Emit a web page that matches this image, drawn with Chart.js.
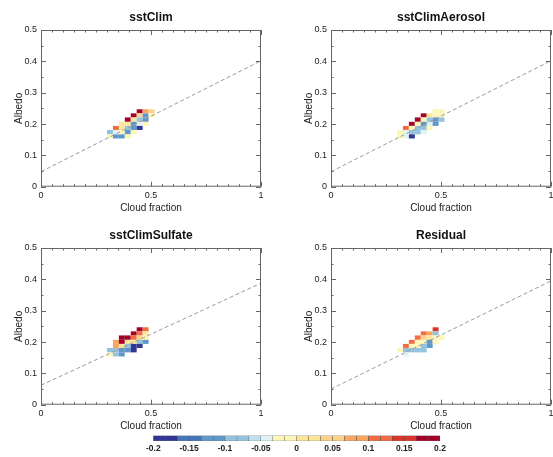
<!DOCTYPE html>
<html><head><meta charset="utf-8">
<script src="https://cdn.jsdelivr.net/npm/chart.js@4.4.1/dist/chart.umd.min.js"></script>
<style>
html,body{margin:0;padding:0;background:#fff;overflow:hidden;}
#wrap{position:relative;width:553px;height:457px;overflow:hidden;background:#fff;}
canvas{position:absolute;}
</style></head><body>
<div id="wrap">
<canvas id="p0" width="276" height="218" style="left:0px;top:0px"></canvas>
<canvas id="p1" width="276" height="218" style="left:290px;top:0px"></canvas>
<canvas id="p2" width="276" height="218" style="left:0px;top:218.3px"></canvas>
<canvas id="p3" width="276" height="218" style="left:290px;top:218.3px"></canvas>
<canvas id="cb" width="315" height="29" style="left:140px;top:428px"></canvas>
</div>
<script>
// ---------------- data ----------------
const panelTitles = ['sstClim', 'sstClimAerosol', 'sstClimSulfate', 'Residual'];
const xTickVals = [0, 0.5, 1];
const xTickLabels = ['0', '0.5', '1'];
const yTickVals = [0, 0.1, 0.2, 0.3, 0.4, 0.5];
const yTickLabels = ['0', '0.1', '0.2', '0.3', '0.4', '0.5'];
// bin edges (cloud fraction, albedo bottom->top)
const cloudEdges = [0.300, 0.327, 0.354, 0.381, 0.408, 0.435, 0.462, 0.489, 0.516];
const albedoEdges = [0.154, 0.167, 0.181, 0.194, 0.207, 0.221, 0.234, 0.247];
// cell values, rows listed top (high albedo) -> bottom
const cellsSstClim = [
  [null,null,null,null,null,0.19,0.08,0.05],
  [null,null,null,null,0.19,0.05,-0.11,-0.01],
  [null,null,null,0.19,0.02,-0.08,-0.11,null],
  [null,null,0.02,0.02,-0.11,-0.04,-0.01,null],
  [null,0.11,0.02,-0.08,-0.11,-0.19,null,null],
  [-0.08,-0.04,-0.01,-0.11,-0.01,null,null,null],
  [-0.01,-0.11,-0.11,-0.01,null,null,null,null]
];
const cellsAerosol = [
  [null,null,null,null,null,null,-0.01,-0.01],
  [null,null,null,null,0.19,0.02,-0.01,-0.01],
  [null,null,null,0.19,-0.01,-0.08,-0.11,-0.08],
  [null,null,0.19,-0.01,-0.11,-0.04,-0.11,null],
  [null,0.11,-0.01,-0.08,-0.08,-0.01,null,null],
  [-0.01,-0.04,-0.08,-0.08,-0.04,null,null,null],
  [-0.01,-0.04,-0.19,null,null,null,null,null]
];
const cellsSulfate = [
  [null,null,null,null,null,0.19,0.11,null],
  [null,null,null,null,0.19,0.11,0.02,null],
  [null,null,0.19,0.19,0.11,0.05,-0.01,null],
  [null,0.08,0.19,0.02,0.02,-0.08,-0.11,null],
  [null,0.08,0.02,-0.08,-0.19,-0.19,null,null],
  [-0.08,-0.08,-0.11,-0.11,-0.19,null,null,null],
  [-0.01,-0.08,-0.11,null,null,null,null,null]
];
const cellsResidual = [
  [null,null,null,null,null,null,0.15,null],
  [null,null,null,null,0.11,0.08,-0.08,null],
  [null,null,null,0.11,0.05,0.02,-0.01,-0.01],
  [null,null,0.11,-0.01,-0.01,-0.11,-0.01,null],
  [null,0.11,-0.01,-0.01,-0.08,-0.11,null,null],
  [-0.01,-0.08,-0.08,-0.08,-0.08,null,null,null],
  [null,-0.04,null,null,null,null,null,null]
];
// dashed fit line: albedo at cloud fraction 0 and 1
const fitAt0 = [0.048, 0.048, 0.062, 0.050];
const fitAt1 = [0.402, 0.402, 0.388, 0.395];
// colour levels
const levelEdges = [-0.2,-0.18333,-0.16667,-0.15,-0.13333,-0.11667,-0.1,-0.08333,-0.06667,-0.05,-0.03333,-0.01667,0,
  0.01667,0.03333,0.05,0.06667,0.08333,0.1,0.11667,0.13333,0.15,0.16667,0.18333,0.2];
const cbTickVals = [-0.2,-0.15,-0.1,-0.05,0,0.05,0.1,0.15,0.2];
const cbTickLabels = ['-0.2','-0.15','-0.1','-0.05','0','0.05','0.1','0.15','0.2'];
// ---------------- styles ----------------
const levelColors = ['#313695','#313695','#4575b4','#4575b4','#6097c9','#6097c9','#93c3df','#93c3df',
  '#bfe1ee','#e2f3f6','#fdf6b5','#fdf6b5','#fde697','#fde697','#fcd287','#fcd287',
  '#fca35c','#fca35c','#f26b43','#f26b43','#d9352a','#d9352a','#a50026','#a50026'];
const FONT = "'Liberation Sans', Arial, Helvetica, sans-serif";
const TXT = '#222';

function colorFor(v){
  for (let k = 0; k < levelColors.length; k++){
    if (v < levelEdges[k+1]) return levelColors[k];
  }
  return levelColors[levelColors.length-1];
}

function makeHeatPlugin(cells){
  return {
    id: 'heat',
    beforeDatasetsDraw(chart){
      const {ctx, chartArea: ca, scales: {x, y}} = chart;
      ctx.save();
      ctx.beginPath(); ctx.rect(ca.left, ca.top, ca.width, ca.height); ctx.clip();
      const n = cells.length;
      cells.forEach((row, ri) => {
        const j = n - 1 - ri;
        row.forEach((v, c) => {
          if (v === null) return;
          const x0 = x.getPixelForValue(cloudEdges[c]), x1 = x.getPixelForValue(cloudEdges[c+1]);
          const y0 = y.getPixelForValue(albedoEdges[j]), y1 = y.getPixelForValue(albedoEdges[j+1]);
          ctx.fillStyle = colorFor(v);
          ctx.fillRect(Math.min(x0,x1), Math.min(y0,y1), Math.abs(x1-x0), Math.abs(y1-y0));
        });
      });
      ctx.restore();
    },
    afterDraw(chart){
      const {ctx, chartArea: ca, scales: {x, y}} = chart;
      ctx.save();
      ctx.strokeStyle = '#666'; ctx.lineWidth = 1;
      ctx.strokeRect(ca.left + 0.5, ca.top + 0.5, ca.width - 1, ca.height - 1);
      ctx.beginPath();
      for (let k = 0; k <= 20; k++){
        const v = k * 0.05;
        const major = xTickVals.some(t => Math.abs(t - v) < 1e-6);
        const L = major ? 5 : 2.5;
        const px = Math.round(x.getPixelForValue(v)) + 0.5;
        ctx.moveTo(px, ca.bottom); ctx.lineTo(px, ca.bottom - L);
        ctx.moveTo(px, ca.top); ctx.lineTo(px, ca.top + L);
      }
      for (let k = 0; k <= 10; k++){
        const v = k * 0.05;
        const major = yTickVals.some(t => Math.abs(t - v) < 1e-6);
        const L = major ? 5 : 2.5;
        const py = Math.round(y.getPixelForValue(v)) + 0.5;
        ctx.moveTo(ca.left, py); ctx.lineTo(ca.left + L, py);
        ctx.moveTo(ca.right, py); ctx.lineTo(ca.right - L, py);
      }
      ctx.stroke();
      ctx.restore();
    }
  };
}

const allCells = [cellsSstClim, cellsAerosol, cellsSulfate, cellsResidual];

allCells.forEach((cells, i) => {
  new Chart(document.getElementById('p' + i), {
    type: 'scatter',
    data: {
      datasets: [{
        data: [{x: 0, y: fitAt0[i]}, {x: 1, y: fitAt1[i]}],
        showLine: true, borderColor: '#9a9a9a', borderWidth: 1, borderDash: [4, 2.5],
        pointRadius: 0, fill: false
      }]
    },
    options: {
      responsive: false, animation: false, events: [],
      layout: {padding: {left: 0, right: 15, top: 0, bottom: 0}},
      plugins: {
        legend: {display: false}, tooltip: {enabled: false},
        title: {display: true, text: panelTitles[i], fullSize: false, color: '#111',
          font: {family: FONT, size: 12, weight: 'bold', lineHeight: 1.2},
          padding: {top: 10.3, bottom: 5.3}}
      },
      scales: {
        x: {
          type: 'linear', min: 0, max: 1, position: 'bottom',
          grid: {display: false, drawTicks: false}, border: {display: false},
          afterBuildTicks: s => { s.ticks = xTickVals.map(v => ({value: v})); },
          ticks: {callback: (v, k) => xTickLabels[k], autoSkip: false, maxRotation: 0,
            font: {family: FONT, size: 9}, color: TXT, padding: 3},
          title: {display: true, text: 'Cloud fraction', color: TXT,
            font: {family: FONT, size: 10}, padding: {top: 0, bottom: 4}},
          afterFit: s => { s.height = 31.3; s.paddingLeft = 0; s.paddingRight = 0; }
        },
        y: {
          type: 'linear', min: 0, max: 0.5, position: 'left',
          grid: {display: false, drawTicks: false}, border: {display: false},
          afterBuildTicks: s => { s.ticks = yTickVals.map(v => ({value: v})); },
          ticks: {callback: (v, k) => yTickLabels[k], autoSkip: false,
            font: {family: FONT, size: 9}, color: TXT, padding: 4},
          title: {display: true, text: 'Albedo', color: TXT,
            font: {family: FONT, size: 10}, padding: {top: 13.5, bottom: 0}},
          afterFit: s => { s.width = 41; s.paddingTop = 0; s.paddingBottom = 0; }
        }
      }
    },
    plugins: [makeHeatPlugin(cells)]
  });
});

// ---------------- colour bar ----------------
const cbDatasets = levelColors.map((c, k) => ({
  data: [[levelEdges[k], levelEdges[k+1]]],
  backgroundColor: c, borderColor: '#555', borderWidth: 0.5, borderSkipped: false,
  barPercentage: 1, categoryPercentage: 1, grouped: false
}));
new Chart(document.getElementById('cb'), {
  type: 'bar',
  data: {labels: [''], datasets: cbDatasets},
  options: {
    indexAxis: 'y', responsive: false, animation: false, events: [],
    layout: {padding: {left: 13.3, right: 15, top: 7.5, bottom: 0}},
    plugins: {legend: {display: false}, tooltip: {enabled: false}},
    scales: {
      x: {
        type: 'linear', min: -0.2, max: 0.2, position: 'bottom',
        grid: {display: false, drawTicks: false}, border: {display: false},
        afterBuildTicks: s => { s.ticks = cbTickVals.map(v => ({value: v})); },
        ticks: {callback: (v, k) => cbTickLabels[k], autoSkip: false, maxRotation: 0,
          font: {family: FONT, size: 8.5, weight: 'bold'}, color: TXT, padding: 3},
        afterFit: s => { s.height = 16; s.paddingLeft = 0; s.paddingRight = 0; }
      },
      y: {type: 'category', display: false}
    }
  }
});
</script>
</body></html>
